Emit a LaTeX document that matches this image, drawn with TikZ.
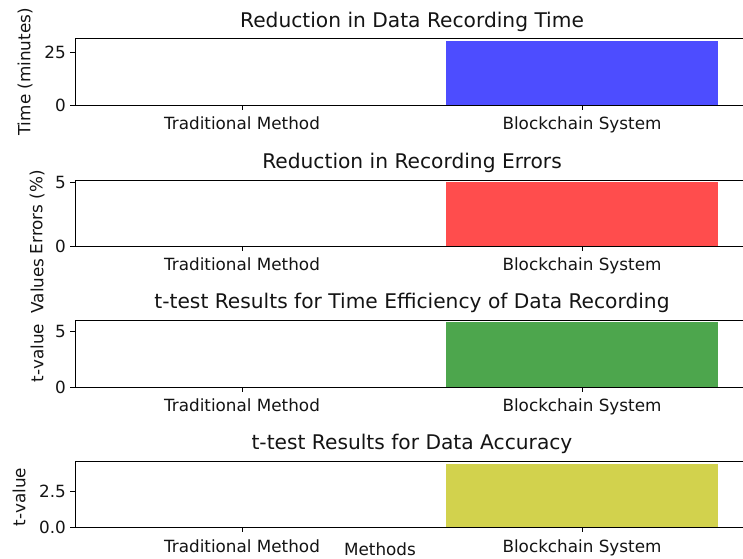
\documentclass[tikz,border=0pt]{standalone}
\usepackage{fontspec}
\setmainfont{DejaVu Sans}
\definecolor{barblue}{RGB}{77,77,255}
\definecolor{barred}{RGB}{255,77,77}
\definecolor{bargreen}{RGB}{77,166,77}
\definecolor{baryellow}{RGB}{210,210,77}
\definecolor{txt}{RGB}{20,20,20}
\tikzset{
  spine/.style={line width=0.9pt, black},
  tickmark/.style={line width=0.9pt, black},
  ticklbl/.style={font=\fontsize{16.8}{17}\selectfont, text=txt, inner sep=0pt},
  titlelbl/.style={font=\fontsize{20.2}{21}\selectfont, text=txt, inner sep=0pt, anchor=base},
  axlbl/.style={font=\fontsize{16.8}{17}\selectfont, text=txt, inner sep=0pt, rotate=90},
}
\begin{document}
\begin{tikzpicture}[x=1pt,y=-1pt]
\useasboundingbox (0,0) rectangle (743,558);
\fill[white] (0,0) rectangle (743,558);
% ---------- Panel 1 ----------
\fill[barblue] (446,41) rectangle (718,105);
\draw[spine] (75,38) -- (749,38);
\draw[spine] (75,105) -- (749,105);
\draw[spine] (75,38) -- (75,105);
\draw[tickmark] (75,105) -- (70,105);
\draw[tickmark] (75,52) -- (70,52);
\draw[tickmark] (242,105) -- (242,110);
\draw[tickmark] (582,105) -- (582,110);
\node[ticklbl, anchor=east] (p1y0) at (66,105) {0};
\node[ticklbl, anchor=east] (p1y25) at (66,52) {25};
\node[ticklbl, anchor=north] (p1xa) at (242,117) {Traditional Method};
\node[ticklbl, anchor=north] (p1xb) at (582,117) {Blockchain System};
\node[titlelbl] (p1t) at (412,27) {Reduction in Data Recording Time};
\node[axlbl] (p1yl) at (25,72) {Time (minutes)};
% ---------- Panel 2 ----------
\fill[barred] (446,182) rectangle (718,246);
\draw[spine] (75,180) -- (749,180);
\draw[spine] (75,246) -- (749,246);
\draw[spine] (75,180) -- (75,246);
\draw[tickmark] (75,246) -- (70,246);
\draw[tickmark] (75,182) -- (70,182);
\draw[tickmark] (242,246) -- (242,251);
\draw[tickmark] (582,246) -- (582,251);
\node[ticklbl, anchor=east] (p2y0) at (66,246) {0};
\node[ticklbl, anchor=east] (p2y5) at (66,182) {5};
\node[ticklbl, anchor=north] (p2xa) at (242,258) {Traditional Method};
\node[ticklbl, anchor=north] (p2xb) at (582,258) {Blockchain System};
\node[titlelbl] (p2t) at (412,168) {Reduction in Recording Errors};
\node[axlbl] (p2yl) at (37,212) {Errors (\%)};
\node[axlbl] (figyl) at (37,286) {Values};
% ---------- Panel 3 ----------
\fill[bargreen] (446,322) rectangle (718,387);
\draw[spine] (75,320) -- (749,320);
\draw[spine] (75,387) -- (749,387);
\draw[spine] (75,320) -- (75,387);
\draw[tickmark] (75,387) -- (70,387);
\draw[tickmark] (75,331) -- (70,331);
\draw[tickmark] (242,387) -- (242,392);
\draw[tickmark] (582,387) -- (582,392);
\node[ticklbl, anchor=east] (p3y0) at (66,387) {0};
\node[ticklbl, anchor=east] (p3y5) at (66,331) {5};
\node[ticklbl, anchor=north] (p3xa) at (242,399) {Traditional Method};
\node[ticklbl, anchor=north] (p3xb) at (582,399) {Blockchain System};
\node[titlelbl] (p3t) at (412,308) {t-test Results for Time Efficiency of Data Recording};
\node[axlbl] (p3yl) at (37,353) {t-value};
% ---------- Panel 4 ----------
\fill[baryellow] (446,464) rectangle (718,527);
\draw[spine] (75,461) -- (749,461);
\draw[spine] (75,527) -- (749,527);
\draw[spine] (75,461) -- (75,527);
\draw[tickmark] (75,527) -- (70,527);
\draw[tickmark] (75,491) -- (70,491);
\draw[tickmark] (242,527) -- (242,532);
\draw[tickmark] (582,527) -- (582,532);
\node[ticklbl, anchor=east] (p4y0) at (66,527) {0.0};
\node[ticklbl, anchor=east] (p4y25) at (66,491) {2.5};
\node[ticklbl, anchor=north] (p4xa) at (242,540) {Traditional Method};
\node[ticklbl, anchor=north] (p4xb) at (582,540) {Blockchain System};
\node[titlelbl] (p4t) at (412,449) {t-test Results for Data Accuracy};
\node[axlbl] (p4yl) at (19,497) {t-value};
\node[ticklbl] (figxl) at (380,549) {Methods};
\end{tikzpicture}
\end{document}
